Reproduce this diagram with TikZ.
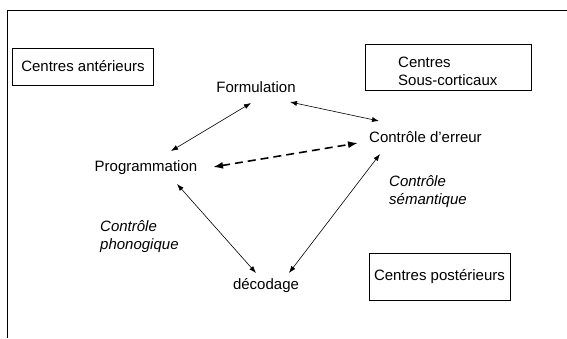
\documentclass[tikz,border=0pt]{standalone}
\usepackage{fontspec}
\setmainfont{Liberation Sans}
\usetikzlibrary{arrows.meta}
\begin{document}
\begin{tikzpicture}[x=1pt,y=-1pt,
  lbl/.style={inner sep=0pt, font=\fontsize{15}{18}\selectfont},
  ilbl/.style={inner sep=0pt, font=\fontsize{15}{18}\selectfont\itshape, align=left, anchor=west},
  boxnode/.style={draw, line width=0.8pt, inner sep=0pt, font=\fontsize{15}{18}\selectfont},
  link/.style={{Latex[length=7pt,width=5pt]}-{Latex[length=7pt,width=5pt]}, line width=0.6pt},
  dlink/.style={{Latex[length=10pt,width=7pt]}-{Latex[length=10pt,width=7pt]}, line width=1.6pt, dash pattern=on 8pt off 5pt}]
\useasboundingbox (0,0) rectangle (567,338);
\fill[white] (0,0) rectangle (567,338);
\draw[line width=0.9pt] (7,338) -- (7,10) -- (567,10);

\node[boxnode, minimum width=141pt, minimum height=37pt] (ant) at (83,66.5) {Centres antérieurs};
\node[boxnode, minimum width=166pt, minimum height=46pt] (sous) at (448,67) {};
\node[lbl, align=left, anchor=west] (soustxt) at (398,71) {Centres\\Sous-corticaux};
\node[boxnode, minimum width=141pt, minimum height=47pt] (post) at (439.5,276.5) {Centres postérieurs};

\node[lbl] (form) at (256,87) {Formulation};
\node[lbl, anchor=west] (ctrl) at (369,137) {Contrôle d’erreur};
\node[lbl] (prog) at (146,168) {Programmation};
\node[lbl] (dec) at (266,286) {décodage};
\node[ilbl] (sem) at (389,191.5) {Contrôle\\sémantique};
\node[ilbl] (pho) at (100,237) {Contrôle\\phonogique};

\draw[link] ([shift={(25,-17)}]prog.center) -- ([shift={(-5,16)}]form.center);
\draw[link] ([shift={(34,15)}]form.center) -- ([shift={(10,-16)}]ctrl.west);
\draw[dlink] ([shift={(67,-1)}]prog.center) -- ([shift={(-11,6)}]ctrl.west);
\draw[link] ([shift={(31,16)}]prog.center) -- ([shift={(-10,-13)}]dec.center);
\draw[link] ([shift={(11,17)}]ctrl.west) -- ([shift={(23,-13)}]dec.center);
\end{tikzpicture}
\end{document}
